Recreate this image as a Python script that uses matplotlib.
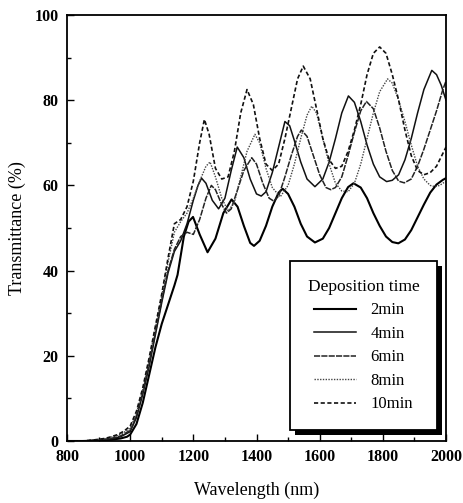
import matplotlib
matplotlib.use("Agg")
import matplotlib.pyplot as plt
from matplotlib.ticker import MultipleLocator
from matplotlib.patches import Rectangle

plt.rcParams['font.family'] = ['Liberation Serif', 'DejaVu Serif']

# ---- data ----
wl_2 = [800, 850, 900, 940, 970, 990, 1000, 1020, 1040, 1060, 1080, 1100, 1120, 1140, 1150, 1160, 1170, 1185,
        1199, 1220, 1245, 1270, 1295, 1321, 1340, 1360, 1380, 1392, 1410, 1430, 1450, 1470, 1483, 1500,
        1520, 1540, 1560, 1585, 1610, 1630, 1650, 1670, 1690, 1707, 1730, 1750, 1770, 1790, 1810, 1830,
        1849, 1870, 1890, 1910, 1930, 1950, 1970, 1990, 2000]
t_2 = [0, 0, 0.1, 0.3, 0.6, 1.0, 1.5, 4, 9, 15.5, 22, 27.5, 32, 36.5, 39, 43.5, 48, 51.5,
       52.6, 48.5, 44.3, 47.5, 53.5, 56.7, 55, 50.5, 46.5, 45.8, 47, 50.5, 55, 58.3, 59.2, 58,
       55, 51, 48, 46.6, 47.5, 50, 53.5, 57, 59.6, 60.5, 59.5, 57, 53.5, 50.5, 48, 46.7,
       46.4, 47.3, 49.5, 52.5, 55.5, 58.3, 60.2, 61.3, 61.7]

wl_4 = [800, 850, 900, 940, 970, 1000, 1020, 1040, 1060, 1080, 1100, 1120, 1140, 1160, 1180, 1200, 1215,
        1226, 1240, 1260, 1280, 1300, 1320, 1339, 1360, 1380, 1400, 1415, 1430, 1450, 1470, 1490, 1505,
        1520, 1540, 1560, 1585, 1610, 1630, 1650, 1670, 1691, 1710, 1730, 1750, 1770, 1790, 1812, 1830,
        1850, 1870, 1890, 1910, 1930, 1955, 1970, 1985, 2000]
t_4 = [0, 0, 0.2, 0.5, 1.0, 2.2, 5.5, 11, 17.5, 25, 32.5, 39.5, 44.5, 47, 51, 56.5, 60,
       61.7, 60.5, 56.5, 54.5, 57, 63.5, 69, 66.5, 61.5, 58, 57.5, 58.5, 63, 69, 75, 74,
       70.5, 65.5, 61.5, 59.7, 61.5, 65.5, 71, 77, 81, 79.5, 75, 69.5, 65, 62, 60.9, 61.2,
       62.5, 66, 71, 77, 82.5, 87, 86, 83.5, 80]

wl_6 = [800, 850, 900, 940, 970, 1000, 1020, 1040, 1060, 1080, 1100, 1120, 1140, 1160, 1180, 1200, 1220,
        1240, 1257, 1270, 1290, 1305, 1320, 1340, 1360, 1385, 1400, 1420, 1440, 1455, 1470, 1490, 1510,
        1530, 1542, 1560, 1580, 1600, 1620, 1635, 1650, 1670, 1690, 1710, 1730, 1748, 1770, 1790, 1810,
        1830, 1850, 1868, 1890, 1910, 1930, 1950, 1970, 1990, 2000]
t_6 = [0, 0, 0.2, 0.6, 1.2, 2.5, 6, 11.5, 18, 25.5, 33, 40, 45, 48, 49, 48.5, 52,
       57, 60, 59, 55.5, 53.5, 54.5, 59, 63.5, 66.5, 65, 60.5, 57, 56.3, 57.5, 62, 67,
       71.5, 73, 71.5, 67, 62.5, 59.5, 59, 59.5, 62, 67, 72.5, 77.5, 79.7, 78, 73.5, 68,
       63.5, 61, 60.6, 61.5, 64.5, 68.5, 73, 77.5, 82.5, 84.5]

wl_8 = [800, 850, 880, 900, 920, 940, 960, 980, 1000, 1020, 1040, 1060, 1080, 1100, 1120, 1140, 1160,
        1180, 1200, 1220, 1240, 1253, 1270, 1290, 1310, 1330, 1350, 1370, 1395, 1410, 1430, 1450, 1475,
        1500, 1520, 1540, 1560, 1575, 1590, 1610, 1630, 1650, 1670, 1690, 1710, 1730, 1750, 1770, 1790,
        1815, 1830, 1850, 1870, 1890, 1910, 1930, 1950, 1965, 1980, 2000]
t_8 = [0, 0, 0.2, 0.4, 0.5, 0.9, 1.3, 2.0, 3.0, 6.5, 12, 19, 26.5, 34, 42, 49, 51.5,
       53.5, 57, 61, 64.5, 65.5, 62, 57, 54, 56, 62, 68, 72, 70, 64, 59.5, 57.3,
       60, 65, 71, 76.5, 78.6, 77, 71, 65, 60.5, 58.7, 58.5, 60.5, 65, 71, 77, 82,
       85, 84, 80, 75, 69.5, 64.5, 61.5, 60, 59.7, 60, 61]

wl_10 = [800, 850, 880, 900, 920, 940, 960, 980, 1000, 1020, 1040, 1060, 1080, 1100, 1120, 1140, 1160,
         1180, 1200, 1220, 1235, 1250, 1270, 1290, 1310, 1330, 1350, 1370, 1390, 1410, 1430, 1450, 1470,
         1490, 1510, 1530, 1548, 1570, 1590, 1610, 1630, 1650, 1670, 1690, 1710, 1730, 1750, 1770, 1790,
         1810, 1830, 1850, 1870, 1890, 1910, 1930, 1950, 1970, 1990, 2000]
t_10 = [0, 0, 0.2, 0.4, 0.6, 1.0, 1.5, 2.3, 3.5, 7, 12.5, 19.5, 27, 34.5, 43, 51, 52,
        55, 61, 70, 75.5, 72, 64, 61.5, 62, 68, 77, 82.5, 79, 71, 65, 63.5, 65,
        71, 78, 85, 88, 85, 78, 71, 66, 64, 64.5, 68, 73, 79, 86, 91, 92.5,
        91, 86, 80, 73, 67, 63.5, 62.5, 63, 64.5, 67.5, 69]

labels = ['2min', '4min', '6min', '8min', '10min']
legend_title = 'Deposition time'

# ---- plot ----
fig = plt.figure(figsize=(4.63, 5.03), dpi=100)
ax = fig.add_axes([67/463, 62/503, 379/463, 426/503])

ax.plot(wl_2, t_2, color='black', lw=1.5, ls='-', label=labels[0])
ax.plot(wl_4, t_4, color='#111111', lw=1.1, ls='-', label=labels[1])
ax.plot(wl_6, t_6, color='#222222', lw=1.1, ls=(0, (4, 0.8)), label=labels[2])
ax.plot(wl_8, t_8, color='#444444', lw=1.0, ls=(0, (1, 1)), label=labels[3])
ax.plot(wl_10, t_10, color='#111111', lw=1.2, ls=(0, (2.5, 1.5)), label=labels[4])

ax.set_xlim(800, 2000)
ax.set_ylim(0, 100)
ax.xaxis.set_major_locator(MultipleLocator(200))
ax.xaxis.set_minor_locator(MultipleLocator(100))
ax.yaxis.set_major_locator(MultipleLocator(20))
ax.yaxis.set_minor_locator(MultipleLocator(10))
ax.tick_params(which='both', direction='in', top=False, right=False, width=1.0)
ax.tick_params(which='major', length=5, labelsize=11.5, pad=6)
ax.tick_params(which='minor', length=3)
for lab in ax.get_xticklabels() + ax.get_yticklabels():
    lab.set_fontweight('bold')
for s in ax.spines.values():
    s.set_linewidth(1.3)

ax.set_xlabel('Wavelength (nm)', fontsize=13, labelpad=12)
ax.set_ylabel('Transmittance (%)', fontsize=13, labelpad=6)

leg = ax.legend(title=legend_title, loc='lower right', bbox_to_anchor=(0.976, 0.026),
                fontsize=12, title_fontsize=12.5, frameon=True, fancybox=False,
                framealpha=1.0, handlelength=2.5, handletextpad=0.85, labelspacing=0.45,
                borderpad=1.05, borderaxespad=0)
leg.get_frame().set_edgecolor('black')
leg.get_frame().set_linewidth(1.3)
leg.set_zorder(6)

# solid black drop shadow (offset in pixels), like the reference
fig.canvas.draw()
bb = leg.get_window_extent()
off = 5
shadow = Rectangle((bb.x0 + off, bb.y0 - off), bb.width, bb.height, transform=None,
                   facecolor='black', edgecolor='none', zorder=5.5, clip_on=False)
ax.add_artist(shadow)

fig.savefig('out.png', dpi=100)
